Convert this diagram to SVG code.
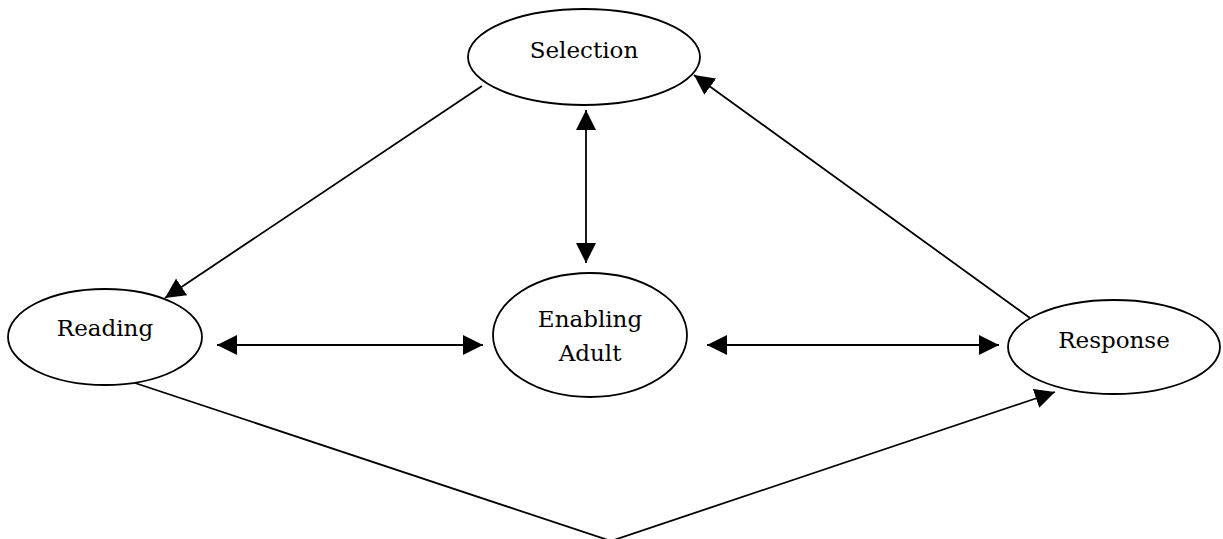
<svg xmlns="http://www.w3.org/2000/svg" width="1223" height="539" viewBox="0 0 1223 539">
  <style>
    .node ellipse { fill: #ffffff; stroke: #000000; stroke-width: 1.8; }
    .node text { font-family: "DejaVu Serif", "Liberation Serif", serif; font-size: 23px; fill: #000000; text-anchor: middle; }
    .edge { fill: none; stroke: #000000; stroke-width: 1.8; }
  </style>
  <defs>
    <marker id="head" viewBox="0 0 20 20" refX="20" refY="10" markerWidth="20" markerHeight="20" markerUnits="userSpaceOnUse" orient="auto-start-reverse">
      <path d="M0,0 L20,10 L0,20 Z" fill="#000000"/>
    </marker>
  </defs>
  <rect width="1223" height="539" fill="#ffffff"/>

  <!-- connectors -->
  <g id="connectors">
    <!-- Selection to Reading -->
    <line class="edge" x1="482" y1="86" x2="165" y2="298" marker-end="url(#head)"/>
    <!-- Selection and Enabling Adult, both ways -->
    <line class="edge" x1="586" y1="110" x2="586" y2="263" marker-start="url(#head)" marker-end="url(#head)"/>
    <!-- Response to Selection -->
    <line class="edge" x1="1030" y1="318" x2="694" y2="75" marker-end="url(#head)"/>
    <!-- Reading and Enabling Adult, both ways -->
    <line class="edge" x1="217" y1="345" x2="483" y2="345" marker-start="url(#head)" marker-end="url(#head)"/>
    <!-- Enabling Adult and Response, both ways -->
    <line class="edge" x1="707" y1="345" x2="999" y2="345" marker-start="url(#head)" marker-end="url(#head)"/>
    <!-- Reading down and across to Response -->
    <polyline class="edge" points="135,383 611,541 1055,392" marker-end="url(#head)"/>
  </g>

  <g id="selection" class="node">
    <ellipse cx="584" cy="57" rx="116" ry="48"/>
    <text x="584" y="58">Selection</text>
  </g>

  <g id="reading" class="node">
    <ellipse cx="105" cy="337" rx="97" ry="48"/>
    <text x="105" y="336">Reading</text>
  </g>

  <g id="enabling-adult" class="node">
    <ellipse cx="590" cy="335" rx="97" ry="62"/>
    <text x="590" y="327">Enabling</text>
    <text x="590" y="361">Adult</text>
  </g>

  <g id="response" class="node">
    <ellipse cx="1114" cy="347" rx="106" ry="47"/>
    <text x="1114" y="348">Response</text>
  </g>
</svg>
